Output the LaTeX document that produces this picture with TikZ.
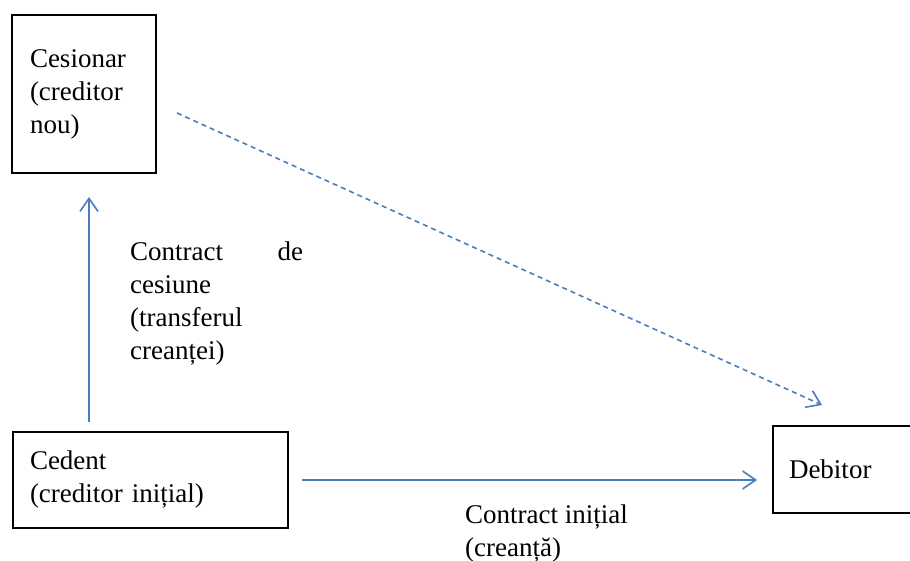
\documentclass[tikz,border=0pt]{standalone}
\usepackage{fontspec}
\setmainfont{Liberation Serif}
\usetikzlibrary{arrows.meta}
\definecolor{linkblue}{RGB}{74,126,187}
\begin{document}
\begin{tikzpicture}[x=1pt,y=-1pt,
    party/.style={draw,line width=2pt,anchor=north west,align=left,inner ysep=0pt,font=\fontsize{27}{33}\selectfont},
    linktext/.style={anchor=north west,align=left,inner sep=0pt,font=\fontsize{27}{33}\selectfont},
    link/.style={draw=linkblue,line width=1.6pt,-{Straight Barb[length=13pt,width=18pt]}}]
    \useasboundingbox (0,0) rectangle (910,561);

    \node[party,minimum width=144pt,minimum height=158pt,inner xsep=18pt,text width=108pt] (cesionar) at (11,14) {Cesionar\\(creditor\\nou)};
    \node[party,minimum width=275pt,minimum height=96pt,inner xsep=17pt,text width=241pt] (cedent) at (12,431) {Cedent\\(creditor inițial)\\[-8pt]};
    \node[party,minimum width=150pt,minimum height=87pt,inner xsep=16pt,text width=118pt] (debitor) at (772,425) {Debitor};

    \node[linktext,text width=173pt] (cesiune) at (130,242) {Contract\hfill de\\cesiune\\(transferul\\creanței)};
    \node[linktext] (initial) at (465,505) {Contract inițial\\(creanță)};

    \draw[link] ([xshift=77pt,yshift=9pt]cedent.north west) -- ([xshift=78pt,yshift=-23pt]cesionar.south west);
    \draw[link,shorten <=13pt,shorten >=15pt] (cedent.east) -- (cedent.east -| debitor.west);
    \draw[link,dash pattern=on 5pt off 4pt] ([xshift=20pt,yshift=-19pt]cesionar.east) -- ([xshift=50pt,yshift=20pt]debitor.north west);
\end{tikzpicture}
\end{document}
